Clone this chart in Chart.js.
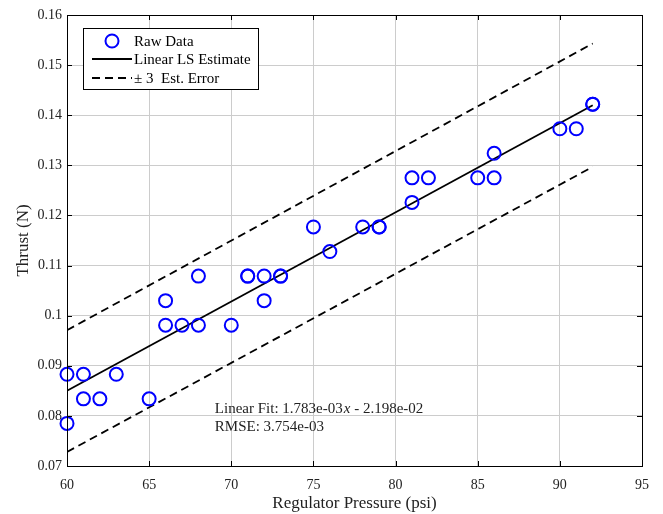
<!DOCTYPE html>
<html><head><meta charset="utf-8">
<script src="https://cdn.jsdelivr.net/npm/chart.js@4/dist/chart.umd.min.js"></script>
<style>html,body{margin:0;padding:0;background:#fff}#wrap{width:663px;height:514px}</style>
</head><body><div id="wrap"><canvas id="c" width="663" height="514"></canvas></div>
<script>
const pressure = [60,60,61,61,62,63,65,66,66,67,68,68,70,71,71,72,72,73,73,75,76,78,79,79,81,81,82,85,86,86,90,91,92,92];
const thrust   = [0.0883,0.0785,0.0883,0.0834,0.0834,0.0883,0.0834,0.1030,0.0981,0.0981,0.1079,0.0981,0.0981,0.1079,0.1079,0.1079,0.1030,0.1079,0.1079,0.1177,0.1128,0.1177,0.1177,0.1177,0.1275,0.1226,0.1275,0.1275,0.1324,0.1275,0.1373,0.1373,0.1422,0.1422];
const fitX   = [60, 92];
const fitY   = [0.0850, 0.1420];
const upperY = [0.0971, 0.1543];
const lowerY = [0.0728, 0.1297];
const seriesLabels = ['Raw Data', 'Linear LS Estimate', '\u00B1 3  Est. Error'];
const fitText = ['Linear Fit: 1.783e-03', 'x', ' - 2.198e-02'];
const rmseText = 'RMSE: 3.754e-03';
const xTitle = 'Regulator Pressure (psi)';
const yTitle = 'Thrust (N)';

const FONT = "'Liberation Serif', 'DejaVu Serif', serif";
const pts = (xs, ys) => xs.map((x, i) => ({x, y: ys[i]}));

const boxPlugin = {
  id: 'boxPlugin',
  afterDraw(chart) {
    const {ctx, chartArea: a, scales} = chart;
    ctx.save();
    ctx.strokeStyle = '#000'; ctx.lineWidth = 1;
    ctx.strokeRect(a.left + 0.5, a.top + 0.5, a.right - a.left, a.bottom - a.top);
    ctx.beginPath();
    scales.x.ticks.forEach(t => {
      const px = Math.round(scales.x.getPixelForValue(t.value)) + 0.5;
      ctx.moveTo(px, a.bottom); ctx.lineTo(px, a.bottom - 5);
      ctx.moveTo(px, a.top); ctx.lineTo(px, a.top + 5);
    });
    scales.y.ticks.forEach(t => {
      const py = Math.round(scales.y.getPixelForValue(t.value)) + 0.5;
      ctx.moveTo(a.left, py); ctx.lineTo(a.left + 5, py);
      ctx.moveTo(a.right, py); ctx.lineTo(a.right - 5, py);
    });
    ctx.stroke();
    // annotation
    const ax = scales.x.getPixelForValue(69.0);
    const ay1 = scales.y.getPixelForValue(0.0813);
    const ay2 = scales.y.getPixelForValue(0.0778);
    ctx.fillStyle = '#222';
    ctx.textBaseline = 'middle';
    ctx.font = "15px " + FONT;
    let x = ax;
    ctx.fillText(fitText[0], x, ay1); x += ctx.measureText(fitText[0]).width + 1;
    ctx.font = "italic 15px " + FONT;
    ctx.fillText(fitText[1], x, ay1); x += ctx.measureText(fitText[1]).width;
    ctx.font = "15px " + FONT;
    ctx.fillText(fitText[2], x, ay1);
    ctx.fillText(rmseText, ax, ay2);
    // legend
    const lx = 83, ly = 28, lw = 175, lh = 61;
    ctx.fillStyle = '#fff';
    ctx.fillRect(lx, ly, lw, lh);
    ctx.strokeStyle = '#000'; ctx.lineWidth = 1;
    ctx.strokeRect(lx + 0.5, ly + 0.5, lw, lh);
    const rows = [41, 59, 78];
    ctx.font = "15px " + FONT;
    ctx.fillStyle = '#000';
    ctx.beginPath(); ctx.strokeStyle = '#0000ff'; ctx.lineWidth = 2;
    ctx.arc(112, rows[0], 6.5, 0, Math.PI * 2); ctx.stroke();
    ctx.beginPath(); ctx.strokeStyle = '#000'; ctx.lineWidth = 1.8;
    ctx.moveTo(92, rows[1]); ctx.lineTo(132, rows[1]); ctx.stroke();
    ctx.beginPath(); ctx.setLineDash([8, 5]);
    ctx.moveTo(92, rows[2]); ctx.lineTo(132, rows[2]); ctx.stroke();
    ctx.setLineDash([]);
    seriesLabels.forEach((s, i) => ctx.fillText(s, 134, rows[i] + 1));
    ctx.restore();
  }
};

new Chart(document.getElementById('c'), {
  type: 'scatter',
  data: {
    datasets: [
      { label: seriesLabels[0], data: pts(pressure, thrust), showLine: false, clip: false,
        pointRadius: 6.5, pointHoverRadius: 6.5, pointBorderWidth: 2, pointBorderColor: '#0000ff',
        pointBackgroundColor: 'rgba(0,0,0,0)', order: 0 },
      { label: seriesLabels[1], data: pts(fitX, fitY), showLine: true, borderColor: '#000',
        borderWidth: 1.8, pointRadius: 0, order: 1 },
      { label: seriesLabels[2], data: pts(fitX, upperY), showLine: true, borderColor: '#000',
        borderWidth: 1.8, borderDash: [8, 5], pointRadius: 0, order: 2 },
      { label: seriesLabels[2], data: pts(fitX, lowerY), showLine: true, borderColor: '#000',
        borderWidth: 1.8, borderDash: [8, 5], pointRadius: 0, order: 3 }
    ]
  },
  options: {
    responsive: false, animation: false, devicePixelRatio: 1,
    layout: { padding: { left: 0, top: 15, right: 21, bottom: 0 } },
    plugins: { legend: { display: false }, tooltip: { enabled: false } },
    scales: {
      x: {
        type: 'linear', min: 60, max: 95,
        ticks: { stepSize: 5, color: '#222', font: { family: FONT, size: 14 }, padding: 11 },
        grid: { color: '#cccccc', drawTicks: false },
        border: { color: '#000' },
        title: { display: true, text: xTitle, color: '#222', font: { family: FONT, size: 17 }, padding: { top: 2, bottom: 0 } },
        afterFit(s) { s.height = 48; s.paddingLeft = 0; s.paddingRight = 0; }
      },
      y: {
        type: 'linear', min: 0.07, max: 0.16,
        ticks: { stepSize: 0.01, color: '#222', font: { family: FONT, size: 14 }, padding: 5,
          callback: v => parseFloat(v.toFixed(2)).toString() },
        grid: { color: '#cccccc', drawTicks: false },
        border: { color: '#000' },
        title: { display: true, text: yTitle, color: '#222', font: { family: FONT, size: 17 }, padding: { top: 13, bottom: 0 } },
        afterFit(s) { s.width = 67; s.paddingTop = 0; s.paddingBottom = 0; }
      }
    }
  },
  plugins: [boxPlugin]
});
</script></body></html>
